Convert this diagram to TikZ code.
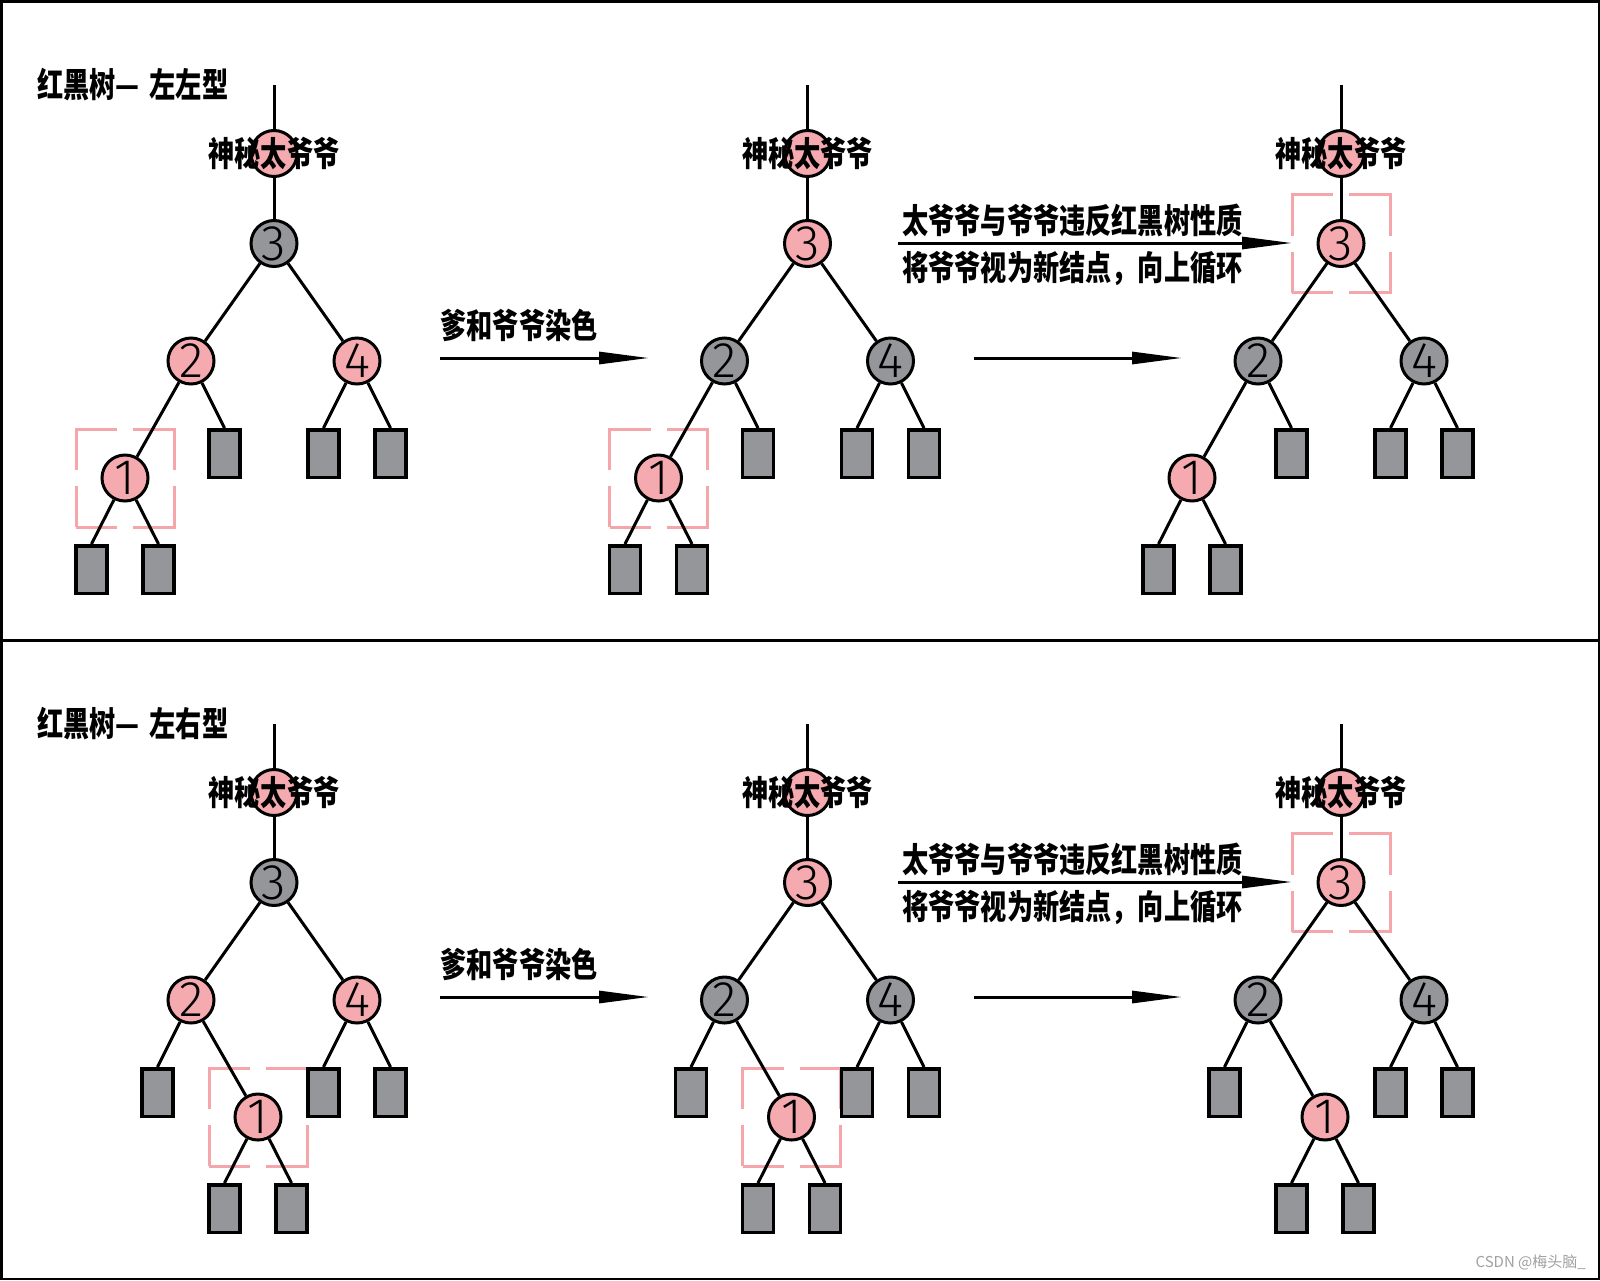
\documentclass[tikz,border=0pt]{standalone}
\usepackage{fontspec}
\newfontfamily\cjk{Noto Sans CJK SC}
\newfontfamily\numfont{Fira Sans Light}
\usetikzlibrary{arrows.meta,backgrounds}

\definecolor{rbred}{RGB}{245,170,175}
\definecolor{rbgray}{RGB}{149,150,154}
\definecolor{hlpink}{RGB}{244,166,171}
\definecolor{wmgray}{RGB}{160,160,160}

\tikzset{
  rb/.style={circle, draw=black, line width=3pt, minimum size=46pt, inner sep=0pt,
             font=\numfont\fontsize{50}{50}\selectfont},
  redn/.style={rb, fill=rbred},
  blackn/.style={rb, fill=rbgray},
  leaf/.style={rectangle, draw=black, fill=rbgray, line width=3.5pt,
               minimum width=31pt, minimum height=47.5pt, inner sep=0pt},
  edge/.style={line width=3pt},
  hl/.style={rectangle, draw=hlpink, line width=3pt, minimum size=98pt, inner sep=0pt,
             dash pattern=on 82pt off 16pt, dash phase=41pt},
  cn/.style={font=\cjk\bfseries\fontsize{34}{34}\selectfont, inner sep=0pt},
  flow/.style={line width=3pt, -{Triangle[length=50pt,width=12pt]}},
}

% the great-grandparent on top of every tree
\newcommand\greatgp{%
  \coordinate (top) at (0,85);
  \node[redn] (g) at (0,153.5) {};
  \node[cn] (gt) at (g) {\scalebox{0.77}[1]{神秘太爷爷}};
  \draw[edge] (top) -- (g);
}

% left-left case: #1 style of 3, #2 style of 2 and 4, #3 highlighted node
\newcommand\treeLL[3]{%
  \greatgp
  \node[#1] (n3) at (0,243.5) {3};
  \node[#2] (n2) at (-83,361) {2};
  \node[#2] (n4) at (83,361) {4};
  \node[redn] (n1) at (-149,478) {1};
  \node[leaf] (l2b) at (-49.5,453.5) {};
  \node[leaf] (l4a) at (49.5,453.5) {};
  \node[leaf] (l4b) at (116.5,453.5) {};
  \node[leaf] (l1a) at (-182.5,569.5) {};
  \node[leaf] (l1b) at (-115.5,569.5) {};
  \draw[edge] (g) -- (n3);
  \draw[edge] (n3) -- (n2);
  \draw[edge] (n3) -- (n4);
  \draw[edge] (n2) -- (n1);
  \draw[edge] (n2) -- (l2b.north);
  \draw[edge] (n4) -- (l4a.north);
  \draw[edge] (n4) -- (l4b.north);
  \draw[edge] (n1) -- (l1a.north);
  \draw[edge] (n1) -- (l1b.north);
  \begin{scope}[on background layer]
    \node[hl] (hl) at (#3) {};
  \end{scope}
}

% left-right case
\newcommand\treeLR[3]{%
  \greatgp
  \node[#1] (n3) at (0,243.5) {3};
  \node[#2] (n2) at (-83,361) {2};
  \node[#2] (n4) at (83,361) {4};
  \node[redn] (n1) at (-16,478) {1};
  \node[leaf] (l2a) at (-116.5,453.5) {};
  \node[leaf] (l4a) at (49.5,453.5) {};
  \node[leaf] (l4b) at (116.5,453.5) {};
  \node[leaf] (l1a) at (-49.5,569.5) {};
  \node[leaf] (l1b) at (17.5,569.5) {};
  \draw[edge] (g) -- (n3);
  \draw[edge] (n3) -- (n2);
  \draw[edge] (n3) -- (n4);
  \draw[edge] (n2) -- (l2a.north);
  \draw[edge] (n2) -- (n1);
  \draw[edge] (n4) -- (l4a.north);
  \draw[edge] (n4) -- (l4b.north);
  \draw[edge] (n1) -- (l1a.north);
  \draw[edge] (n1) -- (l1b.north);
  \begin{scope}[on background layer]
    \node[hl] (hl) at (#3) {};
  \end{scope}
}

% arrows and their captions between the three stages of one case
\newcommand\steps{%
  \coordinate (s1) at (440,358);
  \coordinate (e1) at (649,358);
  \draw[flow] (s1) -- (e1);
  \node[cn] (t1) at (519,325) {\scalebox{0.77}[1]{爹和爷爷染色}};
  \coordinate (s2) at (974,358);
  \coordinate (e2) at (1182,358);
  \draw[flow] (s2) -- (e2);
  \coordinate (s3) at (898,243);
  \coordinate (e3) at (1292,243);
  \draw[flow] (s3) -- (e3);
  \node[cn] (t3a) at (1072.5,220) {\scalebox{0.77}[1]{太爷爷与爷爷违反红黑树性质}};
  \node[cn] (t3b) at (1072.5,268) {\scalebox{0.77}[1]{将爷爷视为新结点，向上循环}};
}

\begin{document}
\begin{tikzpicture}[x=1pt, y=-1pt]
  \useasboundingbox (0,0) rectangle (1600,1280);
  % outer frame and divider
  \draw[line width=2.5pt] (1.25,1.25) rectangle (1598.75,1278.75);
  \draw[line width=3pt] (0,640.5) -- (1600,640.5);

  % ---------- left-left ----------
  \node[cn, anchor=west] (title1) at (37,85) {\scalebox{0.77}[1]{红黑树—}\hspace{10pt}\scalebox{0.77}[1]{左左型}};
  \begin{scope}[shift={(274,0)}, name prefix=ll1-]
    \treeLL{blackn}{redn}{n1}
  \end{scope}
  \begin{scope}[shift={(807.5,0)}, name prefix=ll2-]
    \treeLL{redn}{blackn}{n1}
  \end{scope}
  \begin{scope}[shift={(1341,0)}, name prefix=ll3-]
    \treeLL{redn}{blackn}{n3}
  \end{scope}
  \begin{scope}[name prefix=ll-]
    \steps
  \end{scope}

  % ---------- left-right ----------
  \begin{scope}[shift={(0,639)}]
    \node[cn, anchor=west] (title2) at (37,85) {\scalebox{0.77}[1]{红黑树—}\hspace{10pt}\scalebox{0.77}[1]{左右型}};
    \begin{scope}[shift={(274,0)}, name prefix=lr1-]
      \treeLR{blackn}{redn}{n1}
    \end{scope}
    \begin{scope}[shift={(807.5,0)}, name prefix=lr2-]
      \treeLR{redn}{blackn}{n1}
    \end{scope}
    \begin{scope}[shift={(1341,0)}, name prefix=lr3-]
      \treeLR{redn}{blackn}{n3}
    \end{scope}
    \begin{scope}[name prefix=lr-]
      \steps
    \end{scope}
  \end{scope}

  \node[anchor=east, inner sep=0pt, text=wmgray, font=\cjk\fontsize{15}{15}\selectfont] (wm) at (1586,1262) {CSDN @梅头脑\_};
\end{tikzpicture}
\end{document}
